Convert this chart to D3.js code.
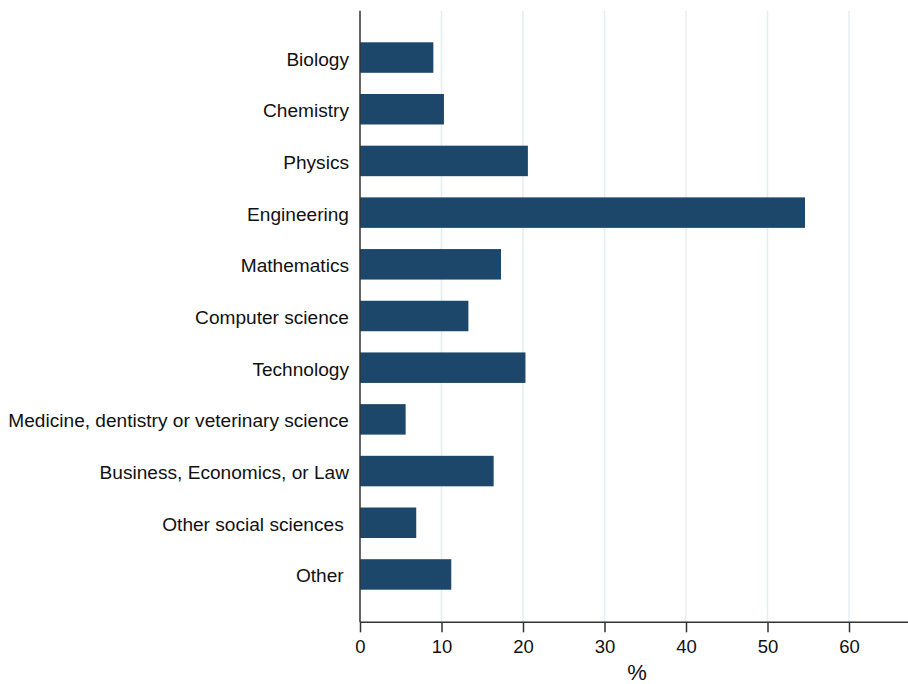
<!DOCTYPE html>
<html>
<head>
<meta charset="utf-8">
<script src="https://cdn.jsdelivr.net/npm/d3@7"></script>
<style>
  body { margin: 0; background: #fff; }
  svg { display: block; font-family: "Liberation Sans", Arial, Helvetica, sans-serif; }
</style>
</head>
<body>
<svg id="chart" width="908" height="684"></svg>
<script>
// Share of respondents by field (%)
const fields = [
  "Biology",
  "Chemistry",
  "Physics",
  "Engineering",
  "Mathematics",
  "Computer science",
  "Technology",
  "Medicine, dentistry or veterinary science",
  "Business, Economics, or Law",
  "Other social sciences ",
  "Other ",
];
const shares = [9.0, 10.3, 20.6, 54.6, 17.3, 13.3, 20.3, 5.6, 16.4, 6.9, 11.2];
const xTicks = [0, 10, 20, 30, 40, 50, 60];

const data = fields.map((f, i) => ({ field: f, value: shares[i] }));

const svg = d3.select("#chart");
const width = 908;

// Plot region
const plotLeft = 360, plotTop = 10.7, plotBottom = 622.3;

const x = d3.scaleLinear().domain([0, 60]).range([plotLeft, 849]);

const y = d3
  .scaleBand()
  .domain(fields)
  .range([31.7, 600.3])
  .paddingInner(0.41)
  .paddingOuter(0.205);

// Grid lines
svg
  .append("g")
  .selectAll("line")
  .data(xTicks.slice(1))
  .join("line")
  .attr("x1", (d) => x(d))
  .attr("x2", (d) => x(d))
  .attr("y1", plotTop)
  .attr("y2", plotBottom)
  .attr("stroke", "#e4edf1")
  .attr("stroke-width", 1.5);

// Bars
svg
  .append("g")
  .selectAll("rect")
  .data(data)
  .join("rect")
  .attr("x", x(0))
  .attr("y", (d) => y(d.field))
  .attr("width", (d) => x(d.value) - x(0))
  .attr("height", y.bandwidth())
  .attr("fill", "#1c476b");

// X axis
const xAxis = svg
  .append("g")
  .attr("transform", `translate(0,${plotBottom})`)
  .call(
    d3
      .axisBottom(x)
      .tickValues(xTicks)
      .tickSize(10)
      .tickSizeOuter(0)
      .tickPadding(8)
  );
xAxis.select(".domain").attr("d", `M${plotLeft},0H${width}`);
xAxis.selectAll("line, path").attr("stroke", "#333").attr("stroke-width", 1.5);
xAxis
  .selectAll("text")
  .attr("font-size", 18.5)
  .attr("font-family", "Liberation Sans, Arial, sans-serif")
  .attr("fill", "#111");

svg
  .append("text")
  .attr("x", 637)
  .attr("y", 680)
  .attr("text-anchor", "middle")
  .attr("font-size", 22)
  .attr("fill", "#111")
  .text("%");

// Y axis (line, no ticks)
svg
  .append("line")
  .attr("x1", plotLeft)
  .attr("x2", plotLeft)
  .attr("y1", plotTop)
  .attr("y2", plotBottom)
  .attr("stroke", "#333")
  .attr("stroke-width", 1.5);

svg
  .append("g")
  .selectAll("text")
  .data(fields)
  .join("text")
  .attr("x", plotLeft - 11)
  .attr("y", (d) => y(d) + y.bandwidth() / 2)
  .attr("dy", "0.42em")
  .attr("text-anchor", "end")
  .attr("font-size", 19.1)
  .attr("fill", "#111")
  .style("white-space", "pre")
  .text((d) => d);
</script>
</body>
</html>
